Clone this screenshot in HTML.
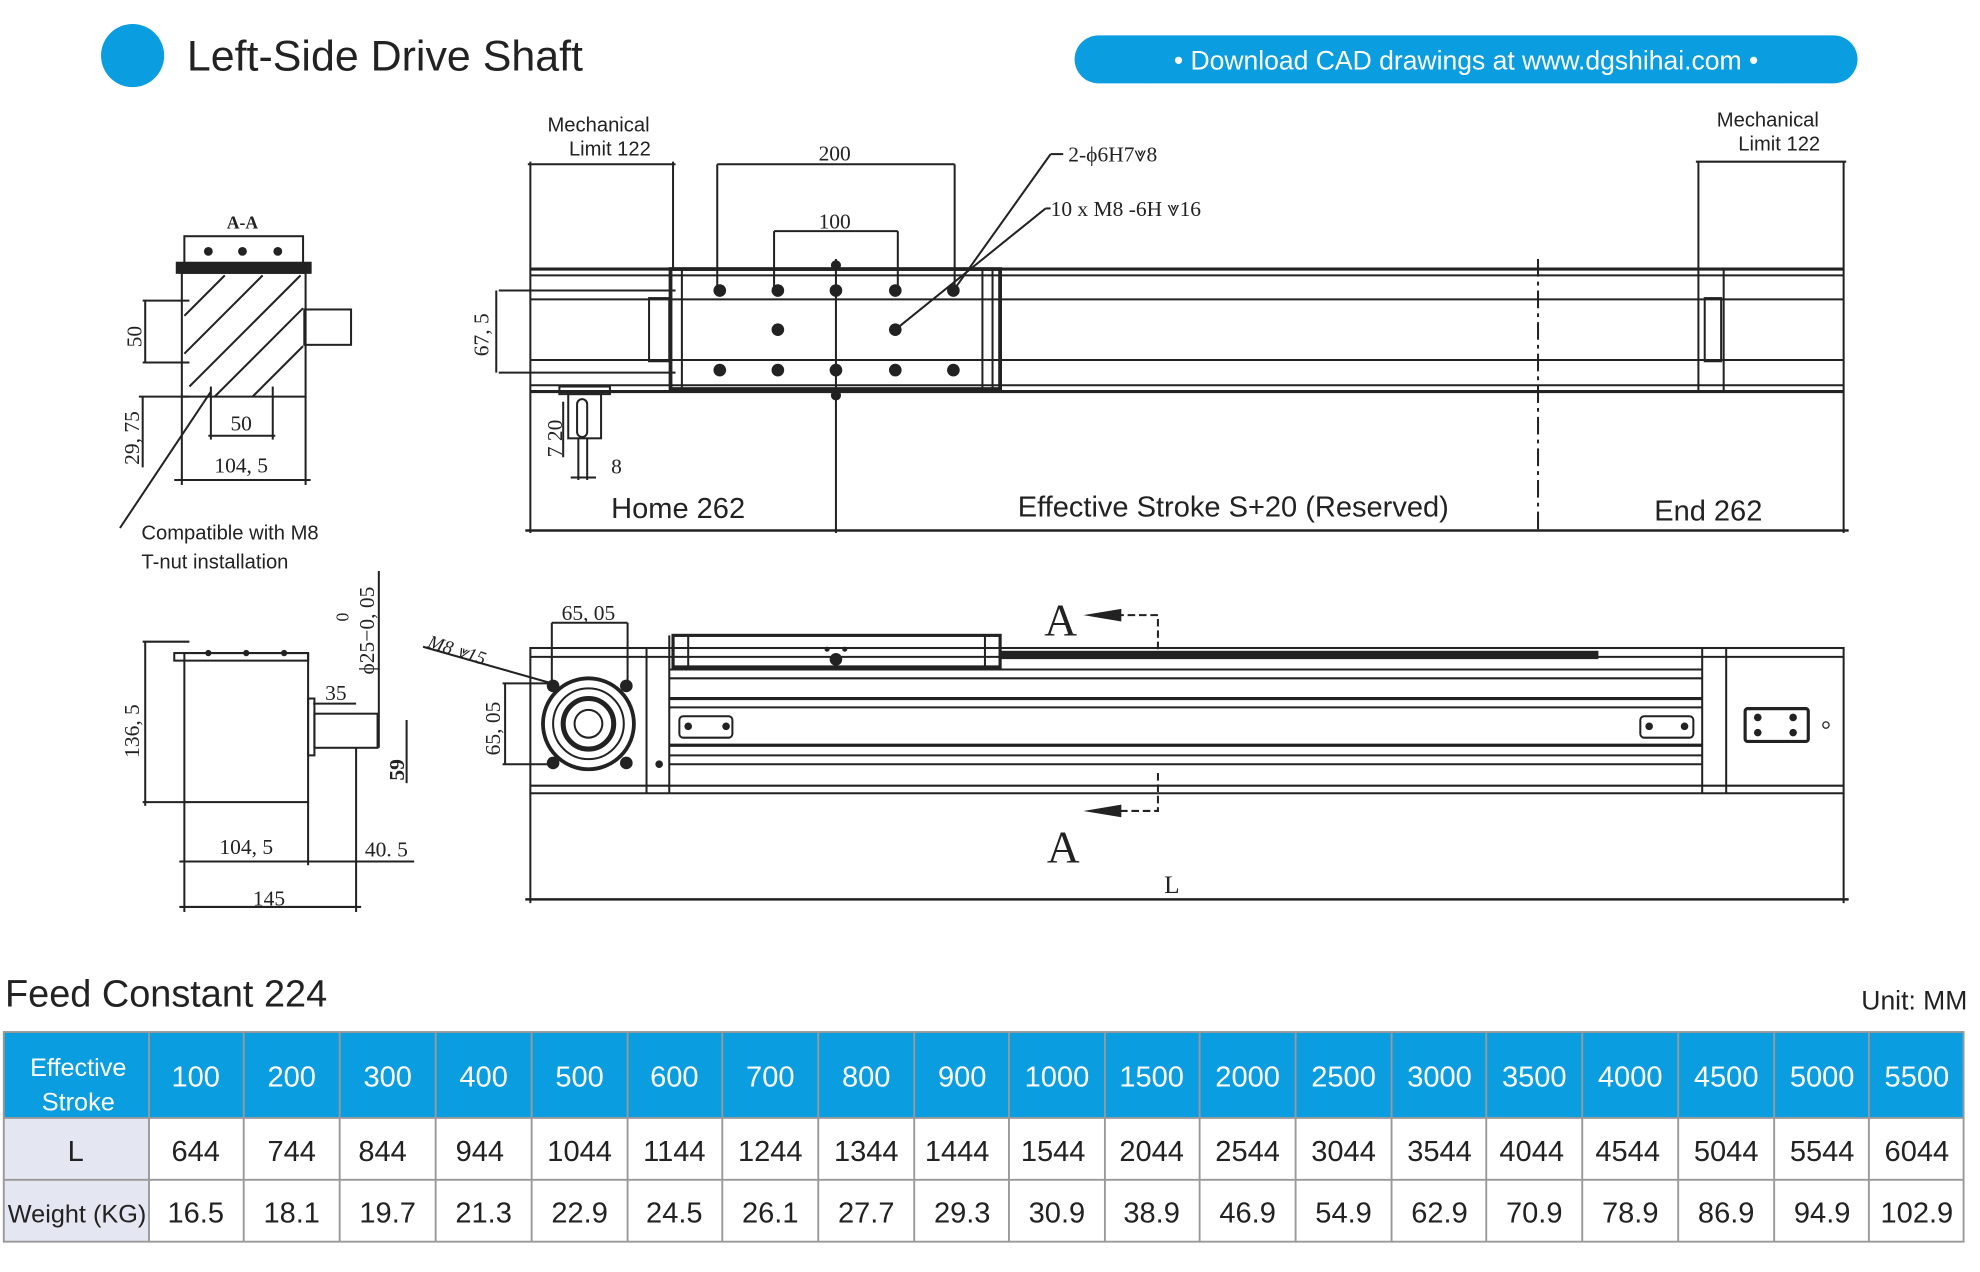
<!DOCTYPE html>
<html><head><meta charset="utf-8"><style>
html,body{margin:0;padding:0;background:#fff}
svg{display:block}
.s{font-family:"Liberation Sans",sans-serif}
.m{font-family:"Liberation Serif",serif}
</style></head><body>
<svg width="1980" height="1272" viewBox="0 0 1568 1007" preserveAspectRatio="none" xmlns="http://www.w3.org/2000/svg">
<rect width="1568" height="1007" fill="#fff"/>
<circle cx="105" cy="44" r="25" fill="#0a9de0"/>
<text x="148" y="56" class="s" font-size="34" fill="#222">Left-Side Drive Shaft</text>
<rect x="851" y="28" width="620" height="38" rx="19" fill="#0a9de0"/>
<text x="1161" y="55" class="s" font-size="21" fill="#fff" text-anchor="middle">• Download CAD drawings at www.dgshihai.com •</text>

<g stroke="#222" fill="none" stroke-width="1.6">
<line x1="420" y1="213" x2="1460" y2="213" stroke-width="2.5"/>
<line x1="420" y1="218" x2="1460" y2="218"/>
<line x1="420" y1="237" x2="1460" y2="237"/>
<line x1="420" y1="285" x2="1460" y2="285"/>
<line x1="420" y1="305" x2="1460" y2="305"/>
<line x1="420" y1="310" x2="1460" y2="310" stroke-width="2.5"/>
<rect x="531" y="213" width="261" height="95" stroke-width="3"/>
<line x1="540" y1="213" x2="540" y2="308"/><line x1="778" y1="213" x2="778" y2="308"/><line x1="786" y1="213" x2="786" y2="308"/>
<rect x="514" y="236" width="16" height="50"/>
<rect x="1350" y="236" width="13" height="50"/>
<line x1="1345" y1="213" x2="1345" y2="310"/><line x1="1365" y1="213" x2="1365" y2="310"/>
<line x1="420" y1="128" x2="420" y2="422"/>
<line x1="533" y1="128" x2="533" y2="213"/>
<line x1="418" y1="130" x2="535" y2="130"/>
<line x1="568" y1="130" x2="756" y2="130"/>
<line x1="568" y1="130" x2="568" y2="230"/><line x1="756" y1="130" x2="756" y2="230"/>
<line x1="613" y1="183" x2="711" y2="183"/>
<line x1="613" y1="183" x2="613" y2="230"/><line x1="711" y1="183" x2="711" y2="230"/>
<line x1="662" y1="205" x2="662" y2="422"/>
<line x1="1218" y1="205" x2="1218" y2="422" stroke-dasharray="14 4 3 4"/>
<line x1="1345" y1="128" x2="1345" y2="213"/><line x1="1460" y1="128" x2="1460" y2="422"/>
<line x1="1343" y1="128" x2="1462" y2="128"/>
<line x1="416" y1="420" x2="1464" y2="420" stroke-width="2"/>
<line x1="395" y1="230" x2="535" y2="230"/><line x1="395" y1="295" x2="535" y2="295"/>
<line x1="393" y1="230" x2="393" y2="295"/>
<line x1="755" y1="230" x2="832" y2="122"/><line x1="832" y1="122" x2="842" y2="122"/>
<line x1="709" y1="261" x2="828" y2="165"/><line x1="828" y1="165" x2="832" y2="165"/>
<rect x="443" y="306" width="40" height="6"/>
<rect x="450" y="312" width="26" height="35"/>
<rect x="457" y="316" width="8" height="30" rx="4"/>
<line x1="458" y1="347" x2="458" y2="380"/><line x1="465" y1="347" x2="465" y2="380"/>
<line x1="452" y1="378" x2="472" y2="378"/>
<line x1="446" y1="318" x2="446" y2="362"/>
<rect x="420" y="513" width="1040" height="115"/>
<line x1="420" y1="520" x2="1460" y2="520"/>
<line x1="420" y1="622" x2="1460" y2="622"/>
<line x1="530" y1="530" x2="1348" y2="530"/><line x1="530" y1="537" x2="1348" y2="537"/>
<line x1="530" y1="553" x2="1348" y2="553" stroke-width="2.5"/><line x1="530" y1="560" x2="1348" y2="560"/>
<line x1="530" y1="590" x2="1348" y2="590" stroke-width="2.5"/><line x1="530" y1="598" x2="1348" y2="598"/>
<line x1="530" y1="605" x2="1348" y2="605"/>
<line x1="512" y1="513" x2="512" y2="628"/><line x1="530" y1="503" x2="530" y2="628"/>
<rect x="533" y="503" width="259" height="25" stroke-width="2.5"/>
<line x1="545" y1="503" x2="545" y2="528"/><line x1="780" y1="503" x2="780" y2="528"/>
<rect x="792" y="516" width="473" height="5" fill="#222"/>
<line x1="1348" y1="513" x2="1348" y2="628"/><line x1="1367" y1="513" x2="1367" y2="628"/>
<rect x="538" y="567" width="42" height="17" rx="3"/>
<rect x="1299" y="567" width="42" height="17" rx="3"/>
<rect x="1382" y="561" width="50" height="26" rx="2" stroke-width="2.5"/>
<circle cx="466" cy="573" r="36" stroke-width="3"/>
<circle cx="466" cy="573" r="28"/>
<circle cx="466" cy="573" r="20" stroke-width="4"/>
<circle cx="466" cy="573" r="11"/>
<line x1="416" y1="712" x2="1464" y2="712" stroke-width="2"/>
<line x1="420" y1="628" x2="420" y2="715"/><line x1="1460" y1="628" x2="1460" y2="715"/>
<line x1="437" y1="493" x2="497" y2="493"/><line x1="437" y1="493" x2="437" y2="543"/><line x1="497" y1="493" x2="497" y2="543"/>
<line x1="398" y1="541" x2="437" y2="541"/><line x1="398" y1="605" x2="437" y2="605"/><line x1="400" y1="541" x2="400" y2="605"/>
<line x1="335" y1="512" x2="437" y2="541"/>
<polyline points="866,487 917,487 917,517" stroke-dasharray="6 3"/>
<polyline points="917,612 917,642 866,642" stroke-dasharray="6 3"/>
<rect x="146" y="187" width="94" height="22"/>
<rect x="140" y="208" width="106" height="8" fill="#222"/>
<rect x="144" y="216" width="98" height="98"/>
<path d="M146 250 L178 218 M146 280 L208 218 M150 306 L238 218 M170 314 L240 244 M200 314 L240 274" />
<rect x="241" y="245" width="37" height="28"/>
<line x1="113" y1="238" x2="150" y2="238"/><line x1="113" y1="287" x2="150" y2="287"/><line x1="115" y1="238" x2="115" y2="287"/>
<line x1="110" y1="314" x2="150" y2="314"/><line x1="113" y1="314" x2="113" y2="370"/>
<line x1="144" y1="314" x2="144" y2="384"/><line x1="242" y1="314" x2="242" y2="384"/><line x1="138" y1="380" x2="246" y2="380"/>
<line x1="167" y1="306" x2="167" y2="348"/><line x1="216" y1="306" x2="216" y2="348"/><line x1="165" y1="345" x2="218" y2="345"/>
<line x1="167" y1="310" x2="95" y2="418"/>
<rect x="146" y="517" width="98" height="118"/>
<rect x="138" y="517" width="106" height="6"/>
<rect x="244" y="553" width="5" height="45"/>
<rect x="249" y="565" width="50" height="27"/>
<line x1="113" y1="508" x2="150" y2="508"/><line x1="113" y1="635" x2="150" y2="635"/><line x1="115" y1="508" x2="115" y2="638"/>
<line x1="146" y1="635" x2="146" y2="722"/><line x1="244" y1="635" x2="244" y2="685"/><line x1="282" y1="592" x2="282" y2="722"/>
<line x1="142" y1="682" x2="328" y2="682"/><line x1="142" y1="718" x2="286" y2="718"/>
<line x1="300" y1="452" x2="300" y2="592"/><line x1="322" y1="570" x2="322" y2="620"/>
<line x1="248" y1="557" x2="282" y2="557"/>
</g>
<g fill="#222">
<circle cx="570" cy="230" r="5"/><circle cx="616" cy="230" r="5"/><circle cx="662" cy="230" r="5"/><circle cx="709" cy="230" r="5"/><circle cx="755" cy="230" r="5"/>
<circle cx="570" cy="293" r="5"/><circle cx="616" cy="293" r="5"/><circle cx="662" cy="293" r="5"/><circle cx="709" cy="293" r="5"/><circle cx="755" cy="293" r="5"/>
<circle cx="616" cy="261" r="5"/><circle cx="709" cy="261" r="5"/><circle cx="662" cy="210" r="4"/><circle cx="662" cy="313" r="4"/>
<circle cx="662" cy="522" r="5"/><circle cx="655" cy="514" r="2"/><circle cx="669" cy="514" r="2"/>
<circle cx="438" cy="543" r="5"/><circle cx="496" cy="543" r="5"/><circle cx="438" cy="604" r="5"/><circle cx="496" cy="604" r="5"/>
<circle cx="522" cy="605" r="3"/><circle cx="545" cy="575" r="3"/><circle cx="575" cy="575" r="3"/>
<circle cx="1306" cy="575" r="3"/><circle cx="1334" cy="575" r="3"/>
<circle cx="1392" cy="568" r="3"/><circle cx="1420" cy="568" r="3"/><circle cx="1392" cy="580" r="3"/><circle cx="1420" cy="580" r="3"/>
<circle cx="165" cy="199" r="3.5"/><circle cx="192" cy="199" r="3.5"/><circle cx="220" cy="199" r="3.5"/>
<circle cx="165" cy="517" r="2.5"/><circle cx="195" cy="517" r="2.5"/><circle cx="225" cy="517" r="2.5"/>
<path d="M858 487 L888 482 L888 492Z M858 642 L888 637 L888 647Z"/>
</g>
<circle cx="1446" cy="574" r="2.5" fill="none" stroke="#222"/>
<g class="s" font-size="16" fill="#222">
<text x="474" y="104" text-anchor="middle">Mechanical</text><text x="483" y="123" text-anchor="middle">Limit 122</text>
<text x="1400" y="100" text-anchor="middle">Mechanical</text><text x="1409" y="119" text-anchor="middle">Limit 122</text>
<text x="112" y="427">Compatible with M8</text><text x="112" y="450">T-nut installation</text>
<text x="484" y="410" font-size="23">Home 262</text>
<text x="806" y="409" font-size="23">Effective Stroke S+20 (Reserved)</text>
<text x="1310" y="412" font-size="23">End 262</text>
</g>
<g class="m" font-size="17" fill="#222">
<text x="661" y="127" text-anchor="middle">200</text><text x="661" y="181" text-anchor="middle">100</text>
<text x="846" y="128">2-ϕ6H7⩔8</text><text x="832" y="171">10 x M8 -6H ⩔16</text>
<text x="192" y="181" text-anchor="middle" font-weight="bold" font-size="14">A-A</text>
<text x="191" y="341" text-anchor="middle">50</text><text x="191" y="374" text-anchor="middle">104, 5</text>
<text x="195" y="676" text-anchor="middle">104, 5</text><text x="213" y="717" text-anchor="middle">145</text>
<text x="306" y="678" text-anchor="middle">40. 5</text><text x="266" y="554" text-anchor="middle">35</text>
<text x="466" y="491" text-anchor="middle">65, 05</text>
<text x="484" y="375">8</text>
<text x="928" y="707" text-anchor="middle" font-size="20">L</text>
<text x="840" y="503" text-anchor="middle" font-size="36">A</text><text x="842" y="683" text-anchor="middle" font-size="36">A</text>
<text transform="translate(112,275) rotate(-90)">50</text>
<text transform="translate(110,368) rotate(-90)">29, 75</text>
<text transform="translate(387,282) rotate(-90)">67, 5</text>
<text transform="translate(445,362) rotate(-90)">7 20</text>
<text transform="translate(110,600) rotate(-90)">136, 5</text>
<text transform="translate(396,598) rotate(-90)">65, 05</text>
<text transform="translate(296,534) rotate(-90)">ϕ25−0, 05</text>
<text transform="translate(276,492) rotate(-90)" font-size="14">0</text>
<text transform="translate(320,618) rotate(-90)" font-weight="bold">59</text>
<text transform="translate(338,512) rotate(18)" font-style="italic" font-size="15">M8 ⩔15</text>
</g>
<text x="4" y="797" class="s" font-size="30" fill="#222">Feed Constant 224</text>
<text x="1558" y="799" class="s" font-size="21" fill="#222" text-anchor="end">Unit: MM</text>
<rect x="3" y="817" width="1552" height="68" fill="#0a9de0"/>
<rect x="3" y="885" width="115" height="98" fill="#e4e7f1"/>
<g stroke="#999" stroke-width="1.5" fill="none">
<rect x="3" y="817" width="1552" height="166"/>
<line x1="3" y1="885" x2="1555" y2="885"/><line x1="3" y1="934" x2="1555" y2="934"/>
<path d="M118 817V983M193 817V983M269 817V983M345 817V983M421 817V983M497 817V983M572 817V983M648 817V983M724 817V983M799 817V983M875 817V983M950 817V983M1026 817V983M1102 817V983M1177 817V983M1253 817V983M1329 817V983M1405 817V983M1480 817V983"/>
</g>
<g class="s" font-size="23" text-anchor="middle" fill="#fff">
<text x="62" y="852" font-size="20">Effective</text><text x="62" y="879" font-size="20">Stroke</text>
<text x="155" y="860">100</text><text x="231" y="860">200</text><text x="307" y="860">300</text><text x="383" y="860">400</text><text x="459" y="860">500</text><text x="534" y="860">600</text><text x="610" y="860">700</text><text x="686" y="860">800</text><text x="762" y="860">900</text><text x="837" y="860">1000</text><text x="912" y="860">1500</text><text x="988" y="860">2000</text><text x="1064" y="860">2500</text><text x="1140" y="860">3000</text><text x="1215" y="860">3500</text><text x="1291" y="860">4000</text><text x="1367" y="860">4500</text><text x="1443" y="860">5000</text><text x="1518" y="860">5500</text>
</g>
<g class="s" font-size="23" text-anchor="middle" fill="#222">
<text x="60" y="919">L</text>
<text x="155" y="919">644</text><text x="231" y="919">744</text><text x="303" y="919">844</text><text x="380" y="919">944</text><text x="459" y="919">1044</text><text x="534" y="919">1144</text><text x="610" y="919">1244</text><text x="686" y="919">1344</text><text x="758" y="919">1444</text><text x="834" y="919">1544</text><text x="912" y="919">2044</text><text x="988" y="919">2544</text><text x="1064" y="919">3044</text><text x="1140" y="919">3544</text><text x="1213" y="919">4044</text><text x="1289" y="919">4544</text><text x="1367" y="919">5044</text><text x="1443" y="919">5544</text><text x="1518" y="919">6044</text>
<text x="61" y="968" font-size="20">Weight (KG)</text>
<text x="155" y="968">16.5</text><text x="231" y="968">18.1</text><text x="307" y="968">19.7</text><text x="383" y="968">21.3</text><text x="459" y="968">22.9</text><text x="534" y="968">24.5</text><text x="610" y="968">26.1</text><text x="686" y="968">27.7</text><text x="762" y="968">29.3</text><text x="837" y="968">30.9</text><text x="912" y="968">38.9</text><text x="988" y="968">46.9</text><text x="1064" y="968">54.9</text><text x="1140" y="968">62.9</text><text x="1215" y="968">70.9</text><text x="1291" y="968">78.9</text><text x="1367" y="968">86.9</text><text x="1443" y="968">94.9</text><text x="1518" y="968">102.9</text>
</g>
</svg>
</body></html>
